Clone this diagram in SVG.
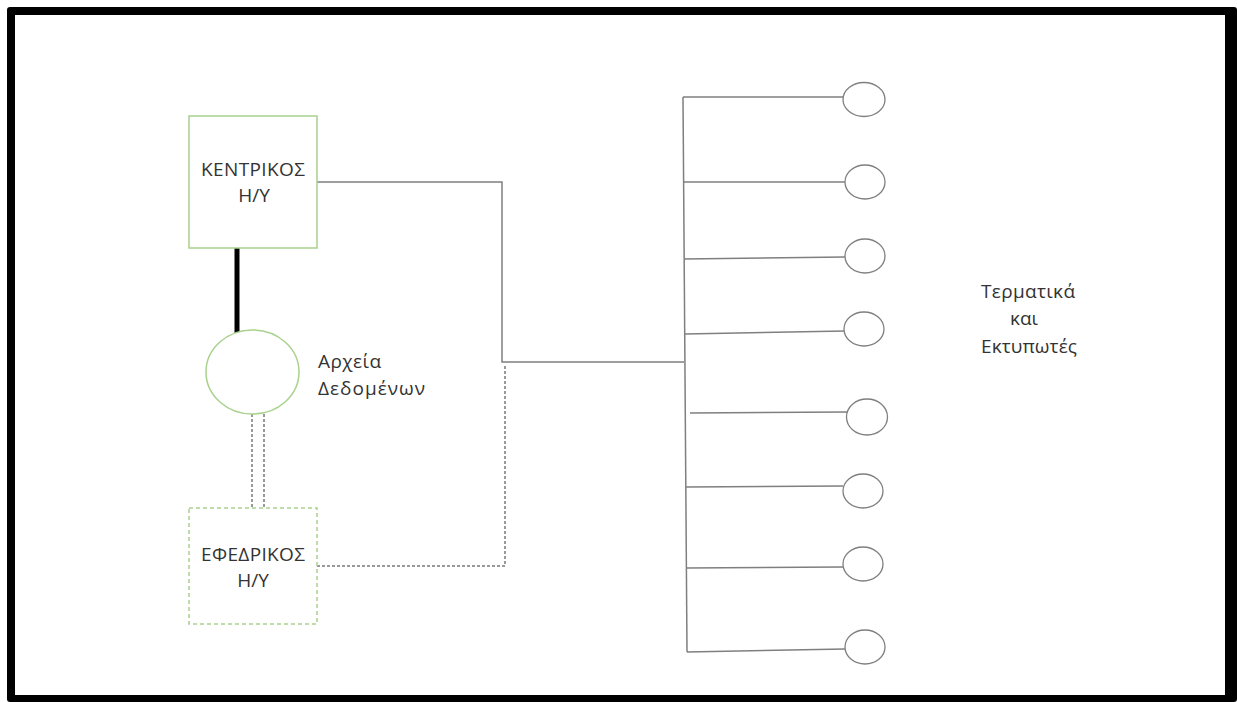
<svg xmlns="http://www.w3.org/2000/svg" width="1237" height="702" viewBox="0 0 1237 702">
<style>
.txt{font-family:"Open Sans","Noto Sans","DejaVu Sans",sans-serif;font-size:19px;fill:#333}
.box{fill:#fff;stroke:#a9d18e;stroke-width:1.5}
.dash{stroke-dasharray:4 3}
.wire{fill:none;stroke:#7f7f7f;stroke-width:1.5}
.dot{fill:none;stroke:#999;stroke-width:2;stroke-dasharray:3 2}
.term{fill:#fff;stroke:#7f7f7f;stroke-width:1.3}
</style>
<rect x="0" y="0" width="1237" height="702" fill="#fff"/>
<rect x="7" y="7" width="1230" height="695" rx="3" fill="#000"/>
<rect x="15" y="15" width="1210" height="680" fill="#fff"/>

<g id="connectors">
  <line x1="237" y1="248" x2="237" y2="333" stroke="#000" stroke-width="5"/>
  <polyline class="wire" points="317,182 502,182 502,362 684,362"/>
  <line class="wire" x1="683" y1="97" x2="687" y2="652"/>
  <line class="dot" x1="252" y1="414" x2="252" y2="508"/>
  <line class="dot" x1="264" y1="414" x2="264" y2="508"/>
  <polyline class="dot" points="317,566 505,566 505,364"/>
  <line class="wire" x1="683" y1="97" x2="845" y2="97"/>
  <line class="wire" x1="684" y1="182" x2="845" y2="182"/>
  <line class="wire" x1="684" y1="259" x2="845" y2="257"/>
  <line class="wire" x1="685" y1="334" x2="845" y2="331"/>
  <line class="wire" x1="690" y1="413" x2="847" y2="412"/>
  <line class="wire" x1="686" y1="487" x2="843" y2="486"/>
  <line class="wire" x1="686" y1="568" x2="843" y2="567"/>
  <line class="wire" x1="687" y1="652" x2="845" y2="649"/>
</g>

<g id="main">
  <rect class="box" x="189" y="116" width="128" height="132"/>
  <text class="txt" x="253" y="176" text-anchor="middle" textLength="104" lengthAdjust="spacing">ΚΕΝΤΡΙΚΟΣ</text>
  <text class="txt" x="254" y="202" text-anchor="middle">Η/Υ</text>
</g>

<g id="data">
  <ellipse class="box" cx="252.5" cy="372" rx="46.5" ry="42"/>
  <text class="txt" x="318" y="368" textLength="63" lengthAdjust="spacing">Αρχεία</text>
  <text class="txt" x="318" y="395" textLength="107" lengthAdjust="spacing">Δεδομένων</text>
</g>

<g id="backup">
  <rect class="box dash" x="189" y="508" width="128" height="116"/>
  <text class="txt" x="253" y="561" text-anchor="middle" textLength="104" lengthAdjust="spacing">ΕΦΕΔΡΙΚΟΣ</text>
  <text class="txt" x="253" y="587" text-anchor="middle">Η/Υ</text>
</g>

<g id="terminals">
  <ellipse class="term" cx="864" cy="99.5" rx="21" ry="17"/>
  <ellipse class="term" cx="865" cy="182" rx="20" ry="17"/>
  <ellipse class="term" cx="865" cy="256" rx="20" ry="17"/>
  <ellipse class="term" cx="864" cy="329" rx="20" ry="17"/>
  <ellipse class="term" cx="867" cy="417" rx="20.5" ry="18"/>
  <ellipse class="term" cx="863" cy="491" rx="20" ry="17"/>
  <ellipse class="term" cx="863" cy="564" rx="20" ry="17"/>
  <ellipse class="term" cx="865" cy="647" rx="20" ry="17"/>
</g>

<g id="label">
  <text class="txt" x="1028" y="298" text-anchor="middle" textLength="94" lengthAdjust="spacing">Τερματικά</text>
  <text class="txt" x="1024" y="325" text-anchor="middle">και</text>
  <text class="txt" x="1029" y="353" text-anchor="middle" textLength="96" lengthAdjust="spacing">Εκτυπωτές</text>
</g>
</svg>
